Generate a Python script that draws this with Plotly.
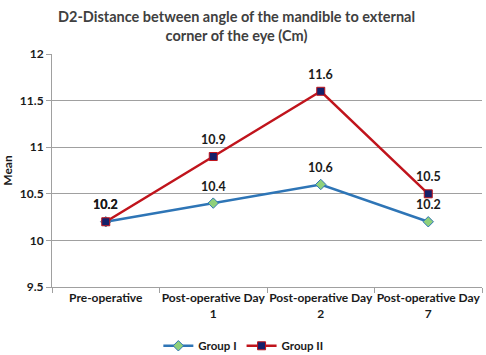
import plotly.graph_objects as go

categories = ["Pre-operative", "Post-operative Day<br>1", "Post-operative Day<br>2", "Post-operative Day<br>7"]
group1 = [10.2, 10.4, 10.6, 10.2]
group2 = [10.2, 10.9, 11.6, 10.5]
y_ticks = [9.5, 10, 10.5, 11, 11.5, 12]

FONT = "Lato, Calibri, Arial, sans-serif"
TXT = "#1a1a1a"

fig = go.Figure()
fig.add_trace(go.Scatter(
    x=categories, y=group1, name="Group I", mode="lines+markers",
    line=dict(color="#2E75B6", width=2.5),
    marker=dict(symbol="diamond", size=8, color="#8FD07A", line=dict(color="#2E75B6", width=1)),
))
fig.add_trace(go.Scatter(
    x=categories, y=group2, name="Group II", mode="lines+markers",
    line=dict(color="#C0141C", width=2.5),
    marker=dict(symbol="square", size=8, color="#14206B", line=dict(color="#C0141C", width=1)),
))

annotations = []
for series in (group1, group2):
    for c, v in zip(categories, series):
        annotations.append(dict(
            x=c, y=v, xref="x", yref="y", text=f"<b>{v}</b>", showarrow=False,
            yshift=17, font=dict(family=FONT, size=12.5, color=TXT),
        ))
annotations.append(dict(
    x=0.43, y=1.12, xref="paper", yref="paper", xanchor="center", yanchor="middle",
    text="<b>D2-Distance between angle of the mandible to external<br>corner of the eye (Cm)</b>",
    showarrow=False, font=dict(family=FONT, size=14.5, color="#404040"),
))

fig.update_layout(
    width=486, height=355,
    margin=dict(l=52, r=4, t=54, b=68, autoexpand=False),
    paper_bgcolor="white", plot_bgcolor="white",
    font=dict(family=FONT, size=12, color=TXT),
    annotations=annotations,
    showlegend=True,
    legend=dict(orientation="h", x=0.445, xanchor="center", y=-0.19, yanchor="top",
                font=dict(family=FONT, size=11.5, weight="bold"), itemwidth=30),
    xaxis=dict(
        type="category", range=[-0.5, 3.5], showgrid=False, showline=True,
        linecolor="#A0A0A0", linewidth=1, tickangle=0,
        ticks="outside", tickson="boundaries", ticklen=5, tickcolor="#A0A0A0",
        tickfont=dict(family=FONT, size=12, weight="bold"), automargin=False,
    ),
    yaxis=dict(
        range=[9.5, 12], tickvals=y_ticks, ticktext=[str(v) for v in y_ticks],
        showgrid=True, gridcolor="#A0A0A0", gridwidth=1,
        showline=True, linecolor="#A0A0A0", ticks="outside", ticklen=5, tickcolor="#A0A0A0",
        tickfont=dict(family=FONT, size=12, weight="bold"), zeroline=False, automargin=False,
        title=dict(text="<b>Mean</b>", font=dict(family=FONT, size=12), standoff=6),
    ),
)

fig.write_html("out.html", config={"displayModeBar": False},
               post_script="document.body.style.margin='0';document.body.style.overflow='hidden';")
